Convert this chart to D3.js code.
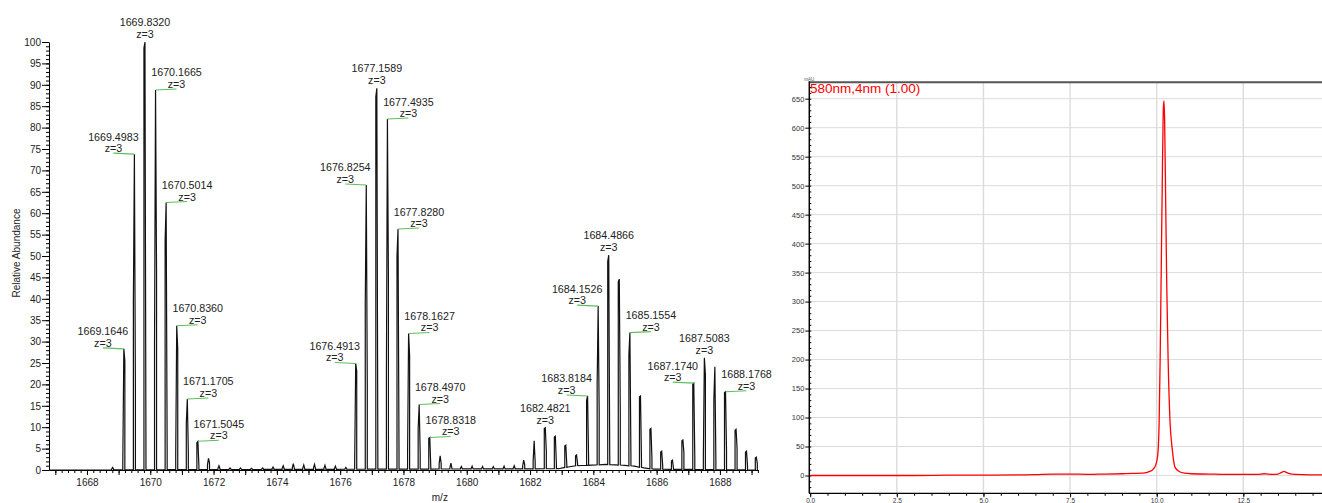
<!DOCTYPE html>
<html>
<head>
<meta charset="utf-8">
<script src="https://cdn.jsdelivr.net/npm/d3@7"></script>
<style>
  body { margin: 0; background: #fff; }
  svg { display: block; font-family: "Liberation Sans", Arial, sans-serif; }
</style>
</head>
<body>
<svg id="chart" width="1322" height="503"></svg>
<script>
// ---------- Mass spectrum (profile peaks) ----------
// each peak: m/z, left shoulder, apex, right shoulder (relative abundance %)
const peakMz = [
  1668.81, 1669.1646, 1669.4983, 1669.8320, 1670.1665, 1670.5014, 1670.8360, 1671.1705, 1671.5045,
  1671.84, 1672.17, 1672.52, 1672.85, 1673.20, 1673.55, 1673.88, 1674.20, 1674.52, 1674.85, 1675.19,
  1675.52, 1675.85, 1676.18,
  1676.4913, 1676.8254, 1677.1589, 1677.4935, 1677.8280, 1678.1627, 1678.4970, 1678.8318,
  1679.16, 1679.50, 1679.83, 1680.17, 1680.50, 1680.84, 1681.18, 1681.50, 1681.80, 1682.13,
  1682.4821, 1682.80, 1683.13, 1683.47, 1683.8184, 1684.1526, 1684.4866, 1684.82, 1685.1554,
  1685.49, 1685.82, 1686.16, 1686.50, 1686.83, 1687.1740, 1687.5083, 1687.84, 1688.1768,
  1688.51, 1688.84, 1689.15
];
const peakLeft = [
  0.2, 2.0, 39.2, 98.6, 29.4, 53.6, 3.7, 10.9, 6.4,
  1.2, 0.4, 0.2, 0.2, 0.2, 0.2, 0.3, 0.4, 0.5, 0.4, 0.5,
  0.4, 0.3, 0.2,
  2.3, 38.6, 87.2, 22.2, 50.0, 3.9, 9.6, 7.4,
  1.5, 0.5, 0.3, 0.3, 0.3, 0.3, 0.3, 0.4, 1.0, 2.0,
  9.7, 7.7, 5.6, 3.3, 16.2, 20.0, 48.7, 44.0, 26.9,
  17.1, 9.5, 4.2, 2.1, 6.8, 20.1, 2.9, 16.4, 18.1,
  9.3, 4.2, 2.8
];
const peakApex = [
  0.6, 28.3, 73.8, 100, 88.8, 62.5, 33.7, 16.6, 6.7,
  2.7, 1.0, 0.5, 0.5, 0.4, 0.5, 0.7, 1.0, 1.5, 1.2, 1.3,
  1.1, 0.9, 0.6,
  24.9, 66.6, 89.2, 82.0, 56.3, 31.9, 15.3, 7.6,
  3.3, 1.6, 0.8, 0.9, 0.8, 0.8, 0.9, 1.0, 2.3, 6.8,
  9.9, 7.9, 5.8, 3.5, 17.3, 38.3, 50.2, 44.6, 32.1,
  17.3, 9.7, 4.4, 2.3, 7.0, 20.3, 26.2, 24.1, 18.3,
  9.5, 4.4, 3.0
];
const peakRight = [
  0.2, 25.5, 18.7, 2.0, 45.8, 4.7, 28.4, 4.1, 1.0,
  1.6, 0.3, 0.2, 0.2, 0.1, 0.2, 0.2, 0.3, 0.4, 0.3, 0.3,
  0.3, 0.2, 0.2,
  23.1, 19.7, 2.3, 44.2, 3.9, 26.7, 3.9, 0.8,
  1.5, 0.4, 0.2, 0.2, 0.2, 0.2, 0.2, 0.3, 1.2, 1.8,
  4.5, 1.5, 1.3, 1.5, 2.5, 13.8, 3.0, 13.6, 3.5,
  1.9, 2.8, 1.0, 0.5, 4.0, 2.8, 22.4, 2.5, 4.4,
  5.0, 1.0, 1.5
];
// raised baseline under the overlapping envelope
const baseMz    = [1666.8, 1682.9, 1683.2, 1683.5, 1683.8, 1684.1, 1684.4, 1684.7, 1685.0, 1685.3, 1685.6, 1685.9, 1689.2];
const baseLevel = [0,      0.3,    0.7,    1.0,    1.1,    1.2,    1.3,    1.2,    1.1,    0.9,    0.5,    0.2,    0];

// annotated isotope peaks (all charge 3) and on which side the tag sits
const labelMz = [
  1669.1646, 1669.4983, 1669.8320, 1670.1665, 1670.5014, 1670.8360, 1671.1705, 1671.5045,
  1676.4913, 1676.8254, 1677.1589, 1677.4935, 1677.8280, 1678.1627, 1678.4970, 1678.8318,
  1682.4821, 1683.8184, 1684.1526, 1684.4866, 1685.1554, 1687.1740, 1687.5083, 1688.1768
];
const labelSide = [
  "left", "left", "up", "right", "right", "right", "right", "right",
  "left", "left", "up", "right", "right", "right", "right", "right",
  "up", "left", "left", "up", "right", "left", "up", "right"
];
const labelCharge = 3;

const msXTicks = [1668, 1670, 1672, 1674, 1676, 1678, 1680, 1682, 1684, 1686, 1688];
const msYTicks = [0, 5, 10, 15, 20, 25, 30, 35, 40, 45, 50, 55, 60, 65, 70, 75, 80, 85, 90, 95, 100];

// ---------- Chromatogram (580 nm) ----------
const rtMin = [0, 1, 2, 3, 4, 5, 6, 6.5, 7, 7.5, 8, 8.5, 9, 9.3, 9.6, 9.8, 9.9, 9.97, 10.03, 10.07,
  10.1, 10.13, 10.16, 10.19, 10.21, 10.23, 10.26, 10.29, 10.33, 10.38, 10.45, 10.53, 10.65, 10.8,
  11, 11.5, 12, 12.5, 12.9, 13.1, 13.2, 13.35, 13.5, 13.62, 13.68, 13.75, 13.9, 14.2, 14.8];
const absMAU = [0, 0, 0, 0, 0.5, 0.5, 1, 1.5, 2.5, 2.5, 2, 2.5, 3, 3.5, 4, 7, 11, 18, 35, 90,
  200, 350, 500, 630, 646, 610, 470, 330, 200, 100, 45, 14, 7, 4,
  3, 2.5, 2, 2, 2, 3, 2.5, 2, 2.5, 6, 7, 5, 2.5, 1.5, 1];
const lcXTicks = [0, 2.5, 5, 7.5, 10, 12.5];
const lcYTicks = [0, 50, 100, 150, 200, 250, 300, 350, 400, 450, 500, 550, 600, 650];

const svg = d3.select("#chart");
const ink = "#222";

// =============== left panel: mass spectrum ===============
const mx = d3.scaleLinear().domain([1666.8, 1689.2]).range([49, 757.9]);
const my = d3.scaleLinear().domain([0, 100]).range([470, 42]);
const baseAt = d3.scaleLinear().domain(baseMz).range(baseLevel).clamp(true);

// y axis: minor ticks every 1 %, major every 5 %
svg.append("g").attr("transform", "translate(49,0)")
  .call(d3.axisLeft(my).tickValues(d3.range(0, 101, 1)).tickSize(3).tickFormat("").tickSizeOuter(0))
  .call(g => g.select(".domain").remove())
  .call(g => g.selectAll("line").attr("stroke", "#000"));
svg.append("g").attr("transform", "translate(49,0)")
  .call(d3.axisLeft(my).tickValues(msYTicks).tickSize(7).tickPadding(1).tickSizeOuter(0))
  .call(g => g.select(".domain").attr("stroke", "#000"))
  .call(g => g.selectAll("line").attr("stroke", "#000"))
  .call(g => g.selectAll("text").attr("fill", ink).style("font-size", "10px"));

// x axis: minor ticks every 0.2, each unit longer, labels every 2
svg.append("g").attr("transform", "translate(0,470)")
  .call(d3.axisBottom(mx).tickValues(d3.range(1667.0, 1689.2, 0.2)).tickSize(3).tickFormat("").tickSizeOuter(0))
  .call(g => g.select(".domain").remove())
  .call(g => g.selectAll("line").attr("stroke", "#000"));
svg.append("g").attr("transform", "translate(0,470)")
  .call(d3.axisBottom(mx).tickValues(d3.range(1667, 1690, 1)).tickSize(5).tickFormat("").tickSizeOuter(0))
  .call(g => g.select(".domain").attr("stroke", "#000"))
  .call(g => g.selectAll("line").attr("stroke", "#000"));
svg.append("g").attr("transform", "translate(0,470)")
  .call(d3.axisBottom(mx).tickValues(msXTicks).tickSize(0).tickPadding(9).tickFormat(d3.format("d")))
  .call(g => g.select(".domain").remove())
  .call(g => g.selectAll("text").attr("fill", ink).style("font-size", "10px"));

svg.append("text").attr("x", mx(1679.15)).attr("y", 501).attr("text-anchor", "middle")
  .attr("fill", ink).style("font-size", "10px").text("m/z");
svg.append("text").attr("transform", "translate(20,253) rotate(-90)").attr("text-anchor", "middle")
  .attr("fill", ink).style("font-size", "10px").text("Relative Abundance");

// profile trace: each peak is a narrow spike with its two neighbouring profile points
const dz = 0.032;
const groups = [];
baseMz.forEach((m, i) => groups.push({ key: m, pts: [[m, baseLevel[i]]] }));
peakMz.forEach((m, i) => {
  const b = baseAt(m);
  groups.push({ key: m - dz, pts: [[m - dz, b], [m - dz, Math.max(b, peakLeft[i])], [m, peakApex[i]],
    [m + dz, Math.max(b, peakRight[i])], [m + dz, b]] });
});
groups.sort((a, b) => a.key - b.key);
const trace = groups.flatMap(g => g.pts);
svg.append("path").datum(trace)
  .attr("fill", "none").attr("stroke", "#111").attr("stroke-width", 1.2)
  .attr("d", d3.line().x(d => mx(d[0])).y(d => my(d[1])));

// peak annotations
const apexOf = m => peakApex[peakMz.indexOf(m)];
labelMz.forEach((m, i) => {
  const px = mx(m), py = my(apexOf(m)), side = labelSide[i];
  let cx, numY, zY;
  if (side === "up") {
    cx = px; numY = py - 16; zY = py - 4;
  } else {
    cx = px + (side === "left" ? -21 : 21);
    svg.append("path")
      .attr("d", d3.line()([[px, py], [cx, py - 1]]))
      .attr("stroke", "#5cbf5c").attr("stroke-width", 1.1).attr("fill", "none");
    numY = py - 13.5; zY = py - 2;
  }
  svg.append("text").attr("x", cx).attr("y", numY).attr("text-anchor", "middle")
    .attr("fill", ink).style("font-size", "10.7px").text(m.toFixed(4));
  svg.append("text").attr("x", cx).attr("y", zY).attr("text-anchor", "middle")
    .attr("fill", ink).style("font-size", "10.7px").text("z=" + labelCharge);
});

// =============== right panel: chromatogram ===============
const lx = d3.scaleLinear().domain([0, 14.8]).range([810.2, 1323]);
const ly = d3.scaleLinear().domain([0, 650]).range([475.5, 98.7]);
const frameL = 809.3, frameR = 1322, frameT = 82.3, frameB = 493.3;

const grid = svg.append("g").attr("stroke", "#dcdcdc").attr("stroke-width", 1);
lcYTicks.forEach(v => grid.append("line").attr("x1", frameL).attr("x2", frameR).attr("y1", ly(v)).attr("y2", ly(v)));
lcXTicks.filter(v => v > 0).forEach(v => grid.append("line").attr("x1", lx(v)).attr("x2", lx(v)).attr("y1", frameT).attr("y2", frameB).attr("stroke-width", 1.4));

// axes
svg.append("line").attr("x1", frameL).attr("x2", frameR).attr("y1", frameT).attr("y2", frameT)
  .attr("stroke", "#555").attr("stroke-width", 2);
svg.append("g").attr("transform", `translate(${frameL},0)`)
  .call(d3.axisRight(d3.scaleLinear().domain([-30, 670]).range([ly(-30), ly(670)]))
    .tickValues(d3.range(-30, 671, 10)).tickSize(2).tickFormat("").tickSizeOuter(0))
  .call(g => g.select(".domain").remove())
  .call(g => g.selectAll("line").attr("stroke", "#000"));
svg.append("g").attr("transform", `translate(${frameL},0)`)
  .call(d3.axisLeft(ly).tickValues(lcYTicks).tickSize(4).tickPadding(1).tickSizeOuter(0))
  .call(g => g.select(".domain").remove())
  .call(g => g.selectAll("line").attr("stroke", "#000"))
  .call(g => g.selectAll("text").attr("fill", "#333").style("font-size", "7.5px"));
svg.append("line").attr("x1", frameL).attr("x2", frameL).attr("y1", frameT - 1).attr("y2", frameB)
  .attr("stroke", "#000").attr("stroke-width", 1.5);

svg.append("g").attr("transform", `translate(0,${frameB})`)
  .call(d3.axisBottom(lx).tickValues(d3.range(0, 14.8, 0.5)).tickSize(2.5).tickFormat("").tickSizeOuter(0))
  .call(g => g.select(".domain").remove())
  .call(g => g.selectAll("line").attr("stroke", "#000"));
svg.append("g").attr("transform", `translate(0,${frameB})`)
  .call(d3.axisBottom(lx).tickValues(lcXTicks).tickSize(4).tickPadding(2).tickFormat(d3.format(".1f")).tickSizeOuter(0))
  .call(g => g.select(".domain").remove())
  .call(g => g.selectAll("line").attr("stroke", "#000"))
  .call(g => g.selectAll("text").attr("dy", "0.6em").attr("fill", "#333").style("font-size", "6.5px"));
svg.append("line").attr("x1", frameL).attr("x2", frameR).attr("y1", frameB).attr("y2", frameB)
  .attr("stroke", "#000").attr("stroke-width", 1.2);

svg.append("text").attr("x", frameL).attr("y", 80.5).attr("text-anchor", "middle")
  .attr("fill", "#555").style("font-size", "4.5px").text("mAU");

// absorbance trace
svg.append("path").datum(rtMin.map((t, i) => [t, absMAU[i]]))
  .attr("fill", "none").attr("stroke", "#ff0000").attr("stroke-width", 1.3)
  .attr("d", d3.line().x(d => lx(d[0])).y(d => ly(d[1])).curve(d3.curveMonotoneX));

svg.append("text").attr("x", 810).attr("y", 92.5)
  .attr("fill", "#ff0000").style("font-size", "13.5px").text("580nm,4nm (1.00)");
</script>
</body>
</html>
